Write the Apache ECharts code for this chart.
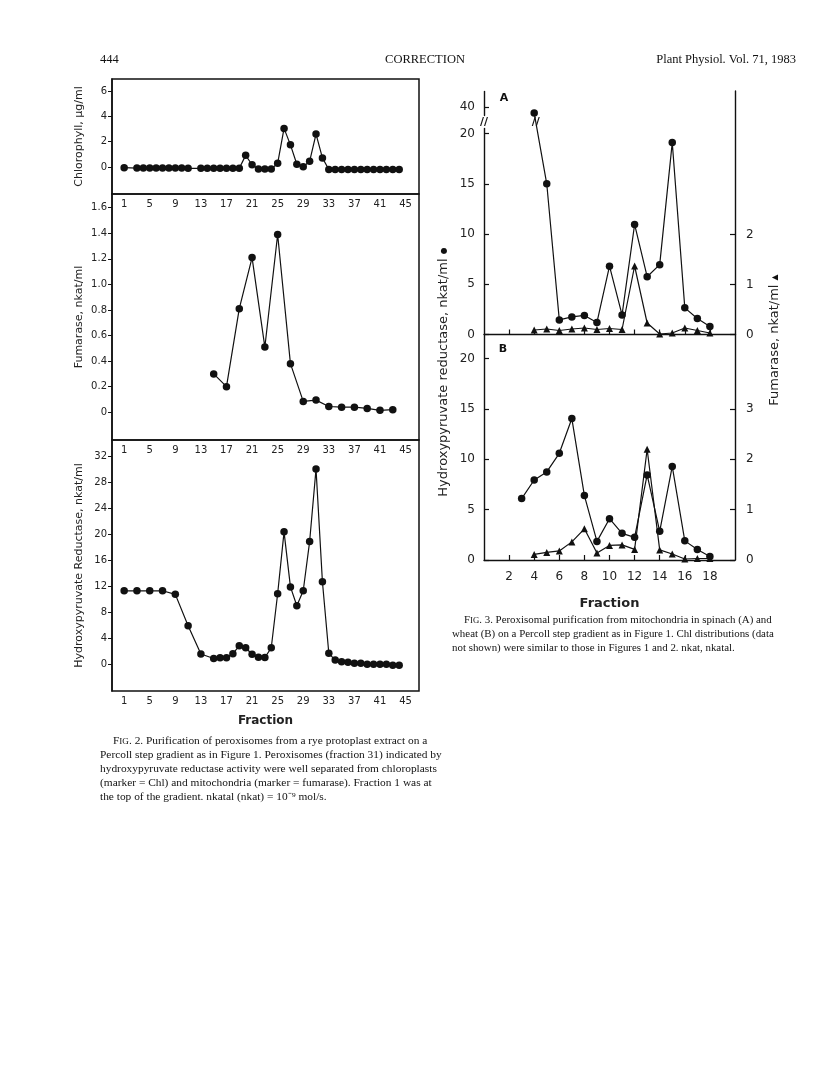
<!DOCTYPE html>
<html><head><meta charset="utf-8">
<script src="https://cdn.jsdelivr.net/npm/echarts@6/dist/echarts.min.js"></script>
<style>html,body{margin:0;padding:0;background:#fff}#c{width:816px;height:1073px}</style>
</head><body><div id="c"></div>
<script>
// ---------- Fig. 2 data (rye) ----------
const fig2TickFractions = [1,5,9,13,17,21,25,29,33,37,41,45];
const chlFractions = [1,3,4,5,6,7,8,9,10,11,13,14,15,16,17,18,19,20,21,22,23,24,25,26,27,28,29,30,31,32,33,34,35,36,37,38,39,40,41,42,43,44];
const chlValues = [-0.05,-0.08,-0.08,-0.08,-0.08,-0.08,-0.08,-0.08,-0.08,-0.1,
  -0.1,-0.1,-0.1,-0.1,-0.1,-0.1,-0.1,
  0.92,0.18,-0.15,-0.15,-0.15,0.29,3.05,1.75,0.22,0.02,0.45,2.6,0.72,
  -0.2,-0.2,-0.2,-0.2,-0.2,-0.2,-0.2,-0.2,-0.2,-0.2,-0.2,-0.2];
const fumFractions = [15,17,19,21,23,25,27,29,31,33,35,37,39,41,43];
const fumValues = [0.30,0.20,0.81,1.21,0.51,1.39,0.38,0.085,0.095,0.045,0.04,0.04,0.03,0.015,0.02];
const hprFractions = [1,3,5,7,9,11,13,15,16,17,18,19,20,21,22,23,24,25,26,27,28,29,30,31,32,33,34,35,36,37,38,39,40,41,42,43,44];
const hprValues = [11.3,11.3,11.3,11.3,10.75,5.9,1.55,0.85,0.95,0.95,1.6,2.8,2.5,1.5,1.05,1.0,2.5,10.85,20.4,11.9,9.0,11.3,18.9,30.1,12.7,1.65,0.6,0.35,0.25,0.1,0.1,-0.05,-0.05,-0.05,-0.05,-0.2,-0.2];
const chlTicks = [0,2,4,6];
const fumTicks = [0,0.2,0.4,0.6,0.8,1.0,1.2,1.4,1.6];
const hprTicks = [0,4,8,12,16,20,24,28,32];

// ---------- Fig. 3 data (spinach A, wheat B) ----------
const fig3TickFractions = [2,4,6,8,10,12,14,16,18];
const spinachFractions = [4,5,6,7,8,9,10,11,12,13,14,15,16,17,18];
const spinachHPR = [39.4,15.0,1.45,1.75,1.9,1.2,6.8,1.95,10.95,5.75,6.95,19.1,2.65,1.6,0.8];
const spinachFum = [0.09,0.11,0.08,0.11,0.13,0.1,0.12,0.1,1.37,0.23,0.01,0.03,0.13,0.08,0.03];
const wheatHPRFractions = [3,4,5,6,7,8,9,10,11,12,13,14,15,16,17,18];
const wheatHPR = [6.1,7.95,8.75,10.6,14.05,6.4,1.85,4.1,2.65,2.25,8.45,2.85,9.3,1.9,1.05,0.35];
const wheatFumFractions = [4,5,6,7,8,9,10,11,12,13,14,15,16,17,18];
const wheatFum = [0.11,0.15,0.18,0.36,0.62,0.14,0.29,0.3,0.21,2.2,0.2,0.12,0.02,0.03,0.03];
const aLeftTicks = [0,5,10,15,20,40];
const bLeftTicks = [0,5,10,15,20];
const aRightTicks = [0,1,2];
const bRightTicks = [0,1,2,3];

const pairs = (xs, ys) => xs.map((x, i) => [x, ys[i]]);
const INK = '#111';
const SANS = 'DejaVu Sans';
const SERIF = 'Liberation Serif';

function f2x(gi, named) {
  return {
    type: 'value', gridIndex: gi, min: -0.9, max: 47.1,
    axisLine: { show: false, onZero: false }, axisTick: { show: false }, splitLine: { show: false },
    axisLabel: { customValues: fig2TickFractions, fontFamily: SANS, fontSize: 10, color: '#222', margin: 5 },
    name: named ? 'Fraction' : '', nameLocation: 'middle', nameGap: 24,
    nameTextStyle: { fontFamily: SANS, fontSize: 12, fontWeight: 'bold', color: '#222' }
  };
}
function f2y(gi, min, max, ticks, name, fmt) {
  return {
    type: 'value', gridIndex: gi, min, max, splitLine: { show: false },
    axisLine: { show: true, onZero: false, lineStyle: { color: INK, width: 1.5 } },
    axisTick: { show: true, inside: false, length: 4, customValues: ticks, lineStyle: { color: INK } },
    axisLabel: { customValues: ticks, formatter: fmt, fontFamily: SANS, fontSize: 10, color: '#222', margin: 5 },
    name, nameLocation: 'middle', nameGap: 27, nameRotate: 90,
    nameTextStyle: { fontFamily: SANS, fontSize: 11, color: '#222' }
  };
}
function f3y(gi, pos, min, max, ticks, extra) {
  return Object.assign({
    type: 'value', gridIndex: gi, position: pos, min, max, splitLine: { show: false },
    axisLine: { show: true, onZero: false, lineStyle: { color: INK, width: 1.4 } },
    axisTick: { show: true, inside: true, length: 5, customValues: ticks, lineStyle: { color: INK, width: 1.2 } },
    axisLabel: { customValues: ticks, fontFamily: SANS, fontSize: 12, color: '#222', margin: pos === 'left' ? 9 : 11 }
  }, extra || {});
}
function f3x(gi, labels) {
  return {
    type: 'value', gridIndex: gi, min: 0, max: 20, splitLine: { show: false },
    axisLine: { show: true, onZero: false, lineStyle: { color: INK, width: 1.4 } },
    axisTick: { show: true, inside: true, length: 5, customValues: fig3TickFractions, lineStyle: { color: INK, width: 1.2 } },
    axisLabel: { show: labels, customValues: fig3TickFractions, fontFamily: SANS, fontSize: 12, color: '#222', margin: 11 },
    name: labels ? 'Fraction' : '', nameLocation: 'middle', nameGap: 37,
    nameTextStyle: { fontFamily: SANS, fontSize: 13, fontWeight: 'bold', color: '#222' }
  };
}
function line(xi, yi, data, symbol, extra) {
  return Object.assign({
    type: 'line', xAxisIndex: xi, yAxisIndex: yi, data,
    symbol, symbolSize: symbol === 'triangle' ? 7 : 7.5, showAllSymbol: true,
    lineStyle: { color: INK, width: 1.2 }, itemStyle: { color: INK },
    z: symbol === 'triangle' ? 2 : 3, animation: false
  }, extra || {});
}

const gridBox = { show: true, borderColor: INK, borderWidth: 1.5, backgroundColor: 'transparent', outerBoundsMode: 'none' };

function capLines(lines, x0, x1, y0, size) {
  return lines.map((t, i) => ({
    type: 'text', x: i === 0 ? x0 : x1, y: y0 + i * 13.9,
    style: {
      text: t, fill: '#111', font: size + 'px "' + SERIF + '"',
      rich: { sc: { fontSize: size * 0.8, fontFamily: SERIF, fill: '#111' } }
    }
  }));
}
const cap2 = [
  'F{sc|IG}. 2. Purification of peroxisomes from a rye protoplast extract on a',
  'Percoll step gradient as in Figure 1. Peroxisomes (fraction 31) indicated by',
  'hydroxypyruvate reductase activity were well separated from chloroplasts',
  '(marker = Chl) and mitochondria (marker = fumarase). Fraction 1 was at',
  'the top of the gradient. nkatal (nkat) = 10\u207B\u2079 mol/s.'
];
const cap3 = [
  'F{sc|IG}. 3. Peroxisomal purification from mitochondria in spinach (A) and',
  'wheat (B) on a Percoll step gradient as in Figure 1. Chl distributions (data',
  'not shown) were similar to those in Figures 1 and 2. nkat, nkatal.'
];

const option = {
  backgroundColor: '#fff',
  animation: false,
  grid: [
    Object.assign({ left: 112, top: 79, width: 307, height: 115 }, gridBox),
    Object.assign({ left: 112, top: 194, width: 307, height: 246 }, gridBox),
    Object.assign({ left: 112, top: 440, width: 307, height: 251 }, gridBox),
    { left: 484, top: 91, width: 251, height: 243.5, show: false, outerBoundsMode: 'none' },
    { left: 484, top: 334.5, width: 251, height: 225.5, show: false, outerBoundsMode: 'none' }
  ],
  xAxis: [ f2x(0, false), f2x(1, false), f2x(2, true), f3x(3, false), f3x(4, true) ],
  yAxis: [
    f2y(0, -2.13, 6.95, chlTicks, 'Chlorophyll, \u00B5g/ml', v => String(v)),
    f2y(1, -0.217, 1.707, fumTicks, 'Fumarase, nkat/ml', v => v === 0 ? '0' : v.toFixed(1)),
    f2y(2, -4.17, 34.58, hprTicks, 'Hydroxypyruvate Reductase, nkat/ml', v => String(v)),
    f3y(3, 'left', 0, 41.6, aLeftTicks, {
      breaks: [{ start: 20.5, end: 39.2, gap: '5.5%' }],
      breakArea: { show: false }
    }),
    f3y(3, 'right', 0, 4.87, aRightTicks),
    f3y(4, 'left', 0, 22.4, bLeftTicks),
    f3y(4, 'right', 0, 4.48, bRightTicks)
  ],
  series: [
    line(0, 0, pairs(chlFractions, chlValues), 'circle'),
    line(1, 1, pairs(fumFractions, fumValues), 'circle'),
    line(2, 2, pairs(hprFractions, hprValues), 'circle'),
    line(3, 3, pairs(spinachFractions, spinachHPR), 'circle', {
      markPoint: {
        symbol: 'circle', symbolSize: 0, silent: true,
        label: { show: true, formatter: '//', position: 'inside', fontFamily: SANS, fontSize: 11, fontWeight: 'bold', color: INK },
        data: [ { coord: [0, 30] }, { coord: [4.12, 30] } ]
      }
    }),
    line(3, 4, pairs(spinachFractions, spinachFum), 'triangle'),
    line(4, 5, pairs(wheatHPRFractions, wheatHPR), 'circle'),
    line(4, 6, pairs(wheatFumFractions, wheatFum), 'triangle')
  ],
  graphic: [
    { type: 'text', x: 100, y: 53, style: { text: '444', font: '12.5px "' + SERIF + '"', fill: '#111' } },
    { type: 'text', x: 425, y: 53, style: { text: 'CORRECTION', font: '12.5px "' + SERIF + '"', fill: '#111', align: 'center' } },
    { type: 'text', x: 796, y: 53, style: { text: 'Plant Physiol. Vol. 71, 1983', font: '12.5px "' + SERIF + '"', fill: '#111', align: 'right' } },
    { type: 'text', x: 504, y: 98, style: { text: 'A', font: 'bold 11px "' + SANS + '"', fill: INK, align: 'center', verticalAlign: 'middle' } },
    { type: 'text', x: 503, y: 349, style: { text: 'B', font: 'bold 11px "' + SANS + '"', fill: INK, align: 'center', verticalAlign: 'middle' } },
    { type: 'text', x: 444, y: 372, rotation: Math.PI / 2,
      style: { text: 'Hydroxypyruvate reductase, nkat/ml {m|\u25CF}', font: '13px "' + SANS + '"', fill: '#222', align: 'center', verticalAlign: 'middle',
        rich: { m: { fontSize: 8, fill: '#111', fontFamily: SANS } } } },
    { type: 'text', x: 775, y: 340, rotation: Math.PI / 2,
      style: { text: 'Fumarase, nkat/ml {m|\u25B2}', font: '13px "' + SANS + '"', fill: '#222', align: 'center', verticalAlign: 'middle',
        rich: { m: { fontSize: 8, fill: '#111', fontFamily: SANS } } } }
  ].concat(capLines(cap2, 113, 100, 736, 11.4), capLines(cap3, 464, 452, 615, 10.9))
};

const chart = echarts.init(document.getElementById('c'), null, { renderer: 'canvas', width: 816, height: 1073 });
chart.setOption(option);
</script>
</body></html>
